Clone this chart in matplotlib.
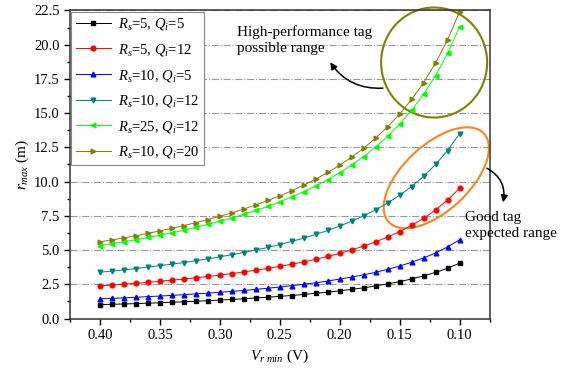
"""
      Maximum read range against minimum rectifier voltage
      for several source resistances and quality factors.
"""
import matplotlib
matplotlib.use("Agg")
import matplotlib.pyplot as plt
import matplotlib.transforms as mtransforms
from matplotlib.patches import Ellipse
from matplotlib.ticker import MultipleLocator

plt.rcParams['font.family'] = ['Liberation Serif', 'DejaVu Serif']
plt.rcParams['mathtext.fontset'] = 'custom'
plt.rcParams['mathtext.rm'] = 'Liberation Serif'
plt.rcParams['mathtext.it'] = 'Liberation Serif:italic'

# minimum voltage (V), 0.40 down to 0.10
vmin = [0.40, 0.39, 0.38, 0.37, 0.36, 0.35, 0.34, 0.33, 0.32, 0.31, 0.30,
        0.29, 0.28, 0.27, 0.26, 0.25, 0.24, 0.23, 0.22, 0.21, 0.20,
        0.19, 0.18, 0.17, 0.16, 0.15, 0.14, 0.13, 0.12, 0.11, 0.10]

r_5_5 = [1.01, 1.04, 1.06, 1.09, 1.12, 1.15, 1.19, 1.22, 1.26, 1.30, 1.35,
         1.39, 1.44, 1.50, 1.55, 1.62, 1.68, 1.76, 1.84, 1.92, 2.02,
         2.13, 2.24, 2.38, 2.53, 2.69, 2.89, 3.11, 3.37, 3.67, 4.04]
r_5_12 = [2.38, 2.44, 2.51, 2.57, 2.64, 2.72, 2.80, 2.88, 2.98, 3.07, 3.17,
          3.28, 3.40, 3.53, 3.66, 3.81, 3.97, 4.14, 4.33, 4.53, 4.76,
          5.01, 5.29, 5.60, 5.95, 6.35, 6.80, 7.32, 7.93, 8.65, 9.52]
r_10_5 = [1.44, 1.47, 1.51, 1.55, 1.60, 1.64, 1.69, 1.74, 1.80, 1.85, 1.92,
          1.98, 2.05, 2.13, 2.21, 2.30, 2.40, 2.50, 2.61, 2.74, 2.88,
          3.03, 3.19, 3.38, 3.59, 3.83, 4.11, 4.42, 4.79, 5.23, 5.75]
r_10_12 = [3.38, 3.46, 3.55, 3.65, 3.75, 3.86, 3.97, 4.09, 4.22, 4.35, 4.50,
           4.66, 4.82, 5.00, 5.19, 5.40, 5.63, 5.87, 6.14, 6.43, 6.75,
           7.11, 7.50, 7.94, 8.44, 9.00, 9.64, 10.38, 11.25, 12.27, 13.50]
r_25_12 = [5.33, 5.46, 5.61, 5.76, 5.92, 6.09, 6.26, 6.45, 6.66, 6.87, 7.10,
           7.34, 7.61, 7.89, 8.19, 8.52, 8.88, 9.26, 9.68, 10.14, 10.65,
           11.21, 11.83, 12.53, 13.31, 14.20, 15.21, 16.38, 17.75, 19.36, 21.30]
r_10_20 = [5.60, 5.74, 5.89, 6.05, 6.22, 6.40, 6.59, 6.79, 7.00, 7.23, 7.47,
           7.72, 8.00, 8.30, 8.62, 8.96, 9.33, 9.74, 10.18, 10.67, 11.20,
           11.79, 12.44, 13.18, 14.00, 14.93, 16.00, 17.23, 18.67, 20.36, 22.40]

series = [r_5_5, r_5_12, r_10_5, r_10_12, r_25_12, r_10_20]
labels = [r"$R_s$=5, $Q_i$=5", r"$R_s$=5, $Q_i$=12", r"$R_s$=10, $Q_i$=5",
          r"$R_s$=10, $Q_i$=12", r"$R_s$=25, $Q_i$=12", r"$R_s$=10, $Q_i$=20"]
colors = ['#000000', '#ff0000', '#0000ff', '#008080', '#00ff00', '#808000']
markers = ['s', 'o', '^', 'v', '<', '>']

fig = plt.figure(figsize=(5.78, 3.68), dpi=100)
ax = fig.add_axes([0.1211, 0.1345, 0.7258, 0.837])

for y, lab, c, m in zip(series, labels, colors, markers):
    ax.plot(vmin, y, color=c, marker=m, markersize=3.4, lw=0.7, label=lab)

ax.set_xlim(0.425, 0.075)
ax.set_ylim(0.0, 22.5)
ax.xaxis.set_major_locator(MultipleLocator(0.05))
ax.xaxis.set_minor_locator(MultipleLocator(0.025))
ax.yaxis.set_major_locator(MultipleLocator(2.5))
ax.yaxis.set_minor_locator(MultipleLocator(1.25))
ax.xaxis.set_major_formatter(plt.FuncFormatter(lambda v, p: "%.2f" % v))
ax.yaxis.set_major_formatter(plt.FuncFormatter(lambda v, p: "%.1f" % v))
ax.tick_params(which='major', direction='out', length=4, width=1.0, labelsize=10.5)
ax.tick_params(which='minor', direction='out', length=2, width=1.0)
ax.yaxis.grid(True, which='major', linestyle='-.', color='#999999', lw=0.8)
ax.set_axisbelow(True)
for s in ax.spines.values():
    s.set_linewidth(1.1)
    s.set_color('#333333')

ax.set_xlabel(r"$V_{r\ min}$ (V)", fontsize=11, labelpad=4)
ax.set_ylabel(r"$r_{max}$ (m)", fontsize=11, labelpad=2)

leg = ax.legend(loc='upper left', fontsize=10.5, handlelength=2.4,
                labelspacing=0.66, borderaxespad=0.1, fancybox=False,
                framealpha=1.0, edgecolor='#888888', borderpad=0.3,
                handletextpad=0.5)
leg.get_frame().set_linewidth(0.8)

# highlight shapes, sized in inches, placed at data points
circ_tr = fig.dpi_scale_trans + mtransforms.ScaledTranslation(0.1212, 18.7, ax.transData)
ax.add_patch(Ellipse((0, 0), 1.06, 1.10, fill=False, ec='#808000', lw=1.5,
                     transform=circ_tr, clip_on=False))
ell_tr = fig.dpi_scale_trans + mtransforms.ScaledTranslation(0.1194, 10.28, ax.transData)
ax.add_patch(Ellipse((0, 0), 1.30, 0.66, angle=43, fill=False, ec='#f7861e', lw=1.5,
                     transform=ell_tr, clip_on=False))

ax.text(0.2858, 20.34, "High-performance tag\npossible range", fontsize=11,
        ha='left', va='center', linespacing=1.3)
ax.annotate("", xy=(0.2092, 18.88), xytext=(0.1617, 16.84),
            arrowprops=dict(arrowstyle='-|>', color='black', lw=1.1,
                            mutation_scale=10, connectionstyle='arc3,rad=-0.3'))

ax.text(0.0958, 6.83, "Good tag\nexpected range", fontsize=11,
        ha='left', va='center', linespacing=1.3)
ax.annotate("", xy=(0.0642, 8.29), xytext=(0.0792, 11.07), annotation_clip=False,
            arrowprops=dict(arrowstyle='-|>', color='black', lw=1.1,
                            mutation_scale=10, connectionstyle='arc3,rad=-0.4'))

fig.savefig("out.png", dpi=100)
